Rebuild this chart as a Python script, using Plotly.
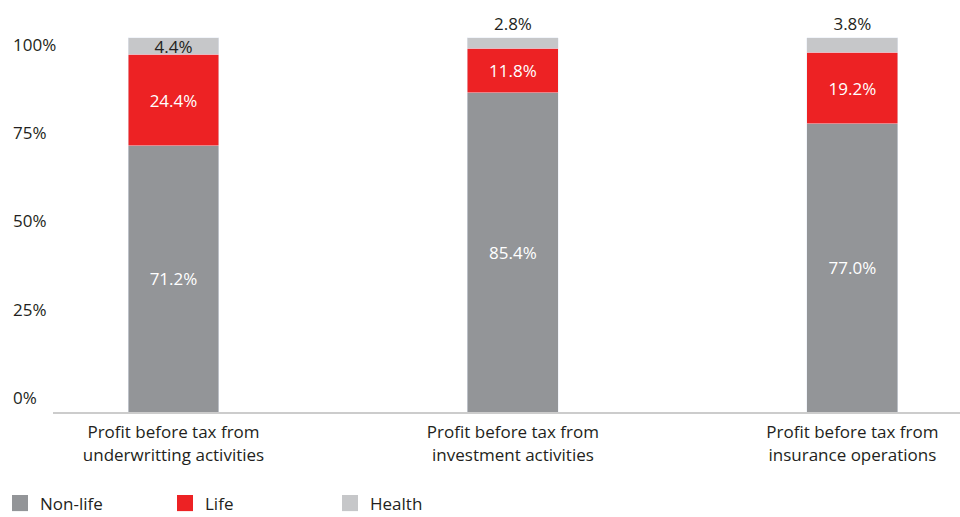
import plotly.graph_objects as go

categories = ["Profit before tax from<br>underwritting activities",
              "Profit before tax from<br>investment activities",
              "Profit before tax from<br>insurance operations"]
non_life = [71.2, 85.4, 77.0]
life = [24.4, 11.8, 19.2]
health = [4.4, 2.8, 3.8]
tick_vals = [0, 25, 50, 75, 100]
tick_text = ["0%", "25%", "50%", "75%", "100%"]

C_NONLIFE = "#939598"
C_LIFE = "#ED2224"
C_HEALTH = "#C6C7C9"
TXT = "#231F20"
FONT = "Open Sans"
FS = 17

fig = go.Figure()
fig.add_trace(go.Bar(x=categories, y=non_life, name="Non-life", marker_color=C_NONLIFE,
                     text=[f"{v:.1f}%" for v in non_life], textposition="inside",
                     insidetextanchor="middle", textfont=dict(color="white", size=FS, family=FONT),
                     width=0.268, showlegend=False))
fig.add_trace(go.Bar(x=categories, y=life, name="Life", marker_color=C_LIFE,
                     text=[f"{v:.1f}%" for v in life], textposition="inside",
                     insidetextanchor="middle", textfont=dict(color="white", size=FS, family=FONT),
                     width=0.268, showlegend=False))
fig.add_trace(go.Bar(x=categories, y=health, name="Health", marker_color=C_HEALTH,
                     text=[f"{v:.1f}%" for v in health],
                     textposition=["inside", "outside", "outside"],
                     insidetextanchor="middle", textfont=dict(color=TXT, size=FS, family=FONT),
                     outsidetextfont=dict(color=TXT, size=FS, family=FONT),
                     cliponaxis=False, width=0.268, showlegend=False))

# legend entries
for name, col in [("Non-life", C_NONLIFE), ("Life", C_LIFE), ("Health", C_HEALTH)]:
    fig.add_trace(go.Scatter(x=[None], y=[None], mode="markers", name=name,
                             marker=dict(symbol="square", size=22, color=col)))

# invisible trace for label axis
fig.add_trace(go.Scatter(x=[None], y=[None], yaxis="y2", showlegend=False, hoverinfo="skip"))

fig.update_layout(
    width=960, height=517,
    margin=dict(l=0, r=0, t=20, b=105, autoexpand=False),
    barmode="stack",
    plot_bgcolor="white", paper_bgcolor="white",
    font=dict(family=FONT, size=FS, color=TXT),
    uniformtext=dict(minsize=FS, mode="show"),
    xaxis=dict(domain=[0.0552, 1], range=[-0.355, 2.317], showline=True, linecolor="#CCCCCC",
               linewidth=2, ticks="", showgrid=False, tickfont=dict(size=FS, color=TXT),
               ticklabelstandoff=4, automargin=False, fixedrange=True),
    yaxis=dict(range=[0, 104.8], visible=False, showgrid=False, zeroline=False),
    yaxis2=dict(overlaying="y", anchor="free", position=0, side="left",
                range=[-3.97, 107.08], tickvals=tick_vals, ticktext=tick_text,
                ticklabelposition="inside", ticklabelstandoff=9, showgrid=False,
                automargin=False,
                zeroline=False, showline=False, ticks="", tickfont=dict(size=FS, color=TXT)),
    legend=dict(orientation="h", x=0, xanchor="left", yref="container", y=0.026,
                yanchor="middle", traceorder="normal",
                itemsizing="trace", entrywidth=120, entrywidthmode="pixels",
                font=dict(size=FS, color=TXT), bgcolor="rgba(0,0,0,0)"),
    showlegend=True,
)

fig.write_html("out.html")
